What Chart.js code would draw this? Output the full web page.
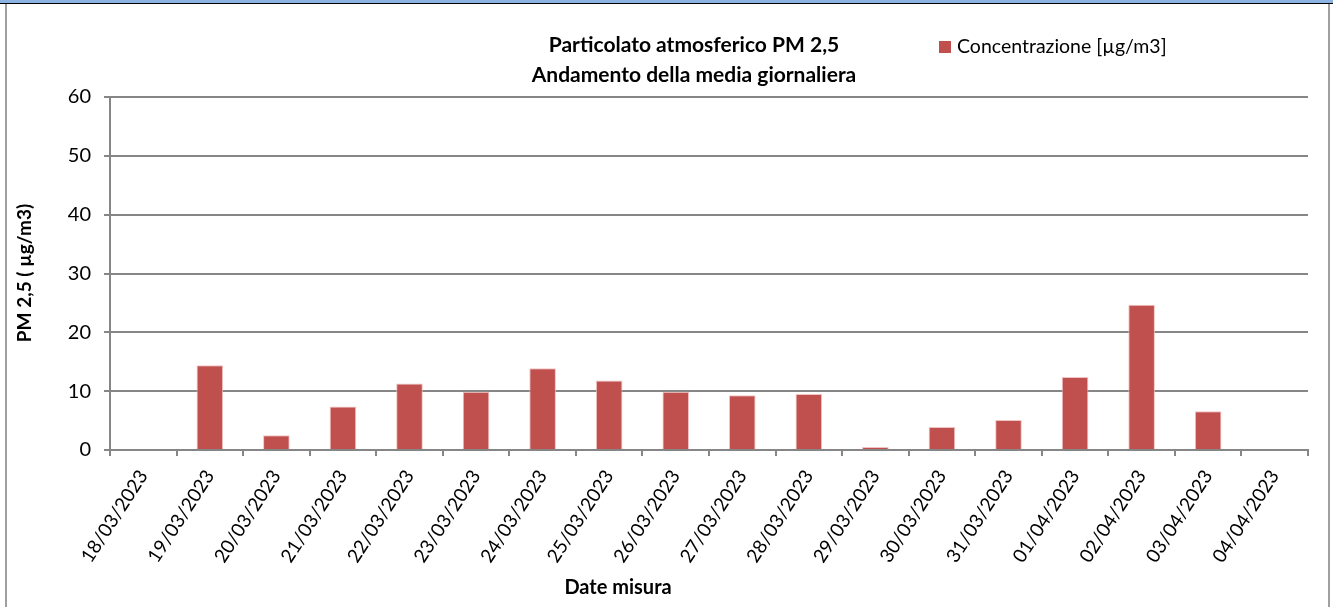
<!DOCTYPE html>
<html>
<head>
<meta charset="utf-8">
<script src="https://cdn.jsdelivr.net/npm/chart.js@4/dist/chart.umd.min.js"></script>
<style>
  html, body { margin: 0; padding: 0; background: #fff; }
  #wrap { width: 1333px; height: 607px; position: relative; }
</style>
</head>
<body>
<div id="wrap"><canvas id="chart" width="1333" height="607"></canvas></div>
<script>
// data
const dates = ['18/03/2023','19/03/2023','20/03/2023','21/03/2023','22/03/2023','23/03/2023',
  '24/03/2023','25/03/2023','26/03/2023','27/03/2023','28/03/2023','29/03/2023',
  '30/03/2023','31/03/2023','01/04/2023','02/04/2023','03/04/2023','04/04/2023'];
const pm25 = [null, 14.4, 2.5, 7.4, 11.3, 9.9, 13.9, 11.8, 9.9, 9.3, 9.5, 0.5, 3.9, 5.1, 12.4, 24.7, 6.6, null];
const seriesName = 'Concentrazione [µg/m3]';
const titleLines = ['Particolato atmosferico PM 2,5', 'Andamento della media giornaliera'];
const yTitle = 'PM 2,5 ( µg/m3)';
const xTitle = 'Date misura';

const FONT = 'Lato, "Open Sans", sans-serif';
const BAR = '#C0504D';
const GRID = '#868686';

// frame, titles and legend
const decor = {
  id: 'decor',
  beforeDraw(chart) {
    const c = chart.ctx;
    c.save();
    c.fillStyle = '#fff';
    c.fillRect(0, 0, chart.width, chart.height);
    c.fillStyle = '#8DB3E2';
    c.fillRect(0, 0, chart.width, 3);
    c.fillStyle = '#000';
    c.fillRect(0, 3, chart.width, 1);
    c.fillStyle = '#A0A0A0';
    c.fillRect(5, 4, 2, chart.height - 4);
    c.fillRect(1328, 4, 2, chart.height - 4);
    c.restore();
  },
  afterDraw(chart) {
    const c = chart.ctx;
    c.save();
    c.fillStyle = '#000';
    c.textAlign = 'center';
    c.textBaseline = 'middle';
    c.font = 'bold 21px ' + FONT;
    c.fillText(titleLines[0], 694, 45);
    c.fillText(titleLines[1], 694, 75);

    c.font = 'bold 20px ' + FONT;
    c.fillText(xTitle, 618, 588);
    c.font = 'bold 19px ' + FONT;
    c.save();
    c.translate(25, 273);
    c.rotate(-Math.PI / 2);
    c.fillText(yTitle, 0, 0);
    c.restore();

    // legend
    c.fillStyle = BAR;
    c.fillRect(939, 41, 12, 12);
    c.fillStyle = '#000';
    c.textAlign = 'left';
    c.font = '19.5px ' + FONT;
    c.fillText(seriesName, 957, 47);
    c.restore();
  }
};

new Chart(document.getElementById('chart'), {
  type: 'bar',
  data: {
    labels: dates,
    datasets: [{
      label: seriesName,
      data: pm25,
      backgroundColor: BAR,
      borderColor: 'rgba(240,190,190,0.9)',
      borderWidth: { top: 1, left: 1, right: 1, bottom: 0 },
      barPercentage: 0.4,
      categoryPercentage: 1
    }]
  },
  options: {
    responsive: false,
    animation: false,
    layout: { padding: { left: 0, right: 25, top: 97, bottom: 0 } },
    plugins: { legend: { display: false }, title: { display: false }, tooltip: { enabled: false } },
    scales: {
      x: {
        afterFit(s) { s.height = 157; },
        grid: {
          offset: true,
          drawOnChartArea: false,
          drawTicks: true,
          tickLength: 6,
          color: GRID,
          lineWidth: 2
        },
        border: { color: GRID, width: 2 },
        ticks: {
          autoSkip: false,
          minRotation: 57,
          maxRotation: 57,
          padding: 10,
          color: '#000',
          font: { family: FONT, size: 19 }
        }
      },
      y: {
        min: 0,
        max: 60,
        afterFit(s) { s.width = 110; },
        grid: { color: GRID, lineWidth: 2, tickLength: 6 },
        border: { color: GRID, width: 2 },
        ticks: {
          stepSize: 10,
          padding: 13,
          color: '#000',
          font: { family: FONT, size: 20 }
        }
      }
    }
  },
  plugins: [decor]
});
</script>
</body>
</html>
